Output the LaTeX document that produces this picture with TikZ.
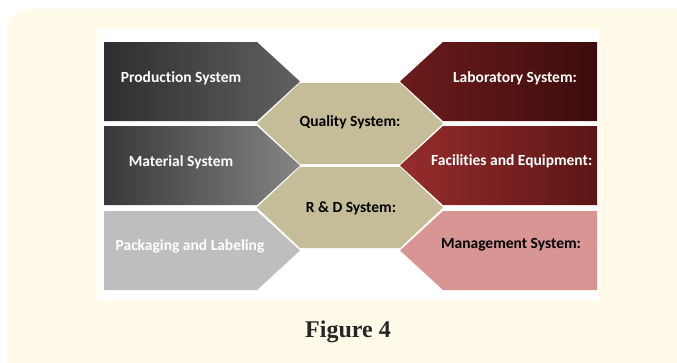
\documentclass[tikz,border=0pt]{standalone}
\usepackage{fontspec}
\setmainfont{Carlito}[Ligatures=NoCommon]
\newfontfamily\capfont{Liberation Serif}
\definecolor{cream}{HTML}{FFFBE8}
\definecolor{khaki}{HTML}{C4BD97}
\definecolor{rosy}{HTML}{D99594}
\definecolor{greyl}{HTML}{BEBEBE}
\tikzset{
  lbl/.style={font=\fontsize{15.5}{18}\selectfont\bfseries, text=white},
  dlbl/.style={font=\fontsize{15.5}{18}\selectfont\bfseries, text=black}
}
\begin{document}
\begin{tikzpicture}[x=1pt,y=-1pt]
  \useasboundingbox (0,0) rectangle (677,362);
  \clip (0,0) rectangle (677,362);
  \fill[cream, rounded corners=22pt] (7,9) rectangle (697,390);
  \fill[white] (97,29) rectangle (599,301);

  % left arrows
  \shade[left color=black!82, right color=black!62] (104,42) -- (257,42) -- (300,81.5) -- (257,121) -- (104,121) -- cycle;
  \shade[left color=black!78, right color=black!48] (104,126) -- (257,126) -- (300,165.5) -- (257,205) -- (104,205) -- cycle;
  \fill[greyl] (104,211) -- (257,211) -- (300,250.5) -- (257,290) -- (104,290) -- cycle;

  % right arrows
  \shade[left color={rgb,255:red,108;green,28;blue,28}, right color={rgb,255:red,62;green,12;blue,12}] (597,42) -- (443,42) -- (400,81.5) -- (443,121) -- (597,121) -- cycle;
  \shade[left color={rgb,255:red,150;green,44;blue,44}, right color={rgb,255:red,92;green,22;blue,22}] (597,126) -- (443,126) -- (400,165.5) -- (443,205) -- (597,205) -- cycle;
  \fill[rosy] (597,211) -- (443,211) -- (400,250.5) -- (443,290) -- (597,290) -- cycle;

  % hexagons
  \fill[khaki] (257,123.5) -- (300,83) -- (400,83) -- (443,123.5) -- (400,164) -- (300,164) -- cycle;
  \fill[khaki] (257,207.5) -- (300,167) -- (400,167) -- (443,207.5) -- (400,248) -- (300,248) -- cycle;

  \node (prod) at (181,78) [lbl] {Production System};
  \node (mat) at (181,162) [lbl] {Material System};
  \node (pack) at (190,246) [lbl] {Packaging and Labeling};
  \node (lab) at (515,78) [lbl] {Laboratory System:};
  \begin{scope}
    \clip (97,29) rectangle (598,301);
    \node (fac) at (431,161) [lbl, anchor=west, inner xsep=0pt] {Facilities and Equipment:};
  \end{scope}
  \node (man) at (511,245) [dlbl] {Management System:};
  \node (qual) at (350,122) [dlbl] {Quality System:};
  \node (rd) at (351,208) [dlbl] {R \& D System:};

  \node (cap) at (348,332) [font=\capfont\fontsize{24}{28}\selectfont\bfseries, text=black!85] {Figure 4};
\end{tikzpicture}
\end{document}
